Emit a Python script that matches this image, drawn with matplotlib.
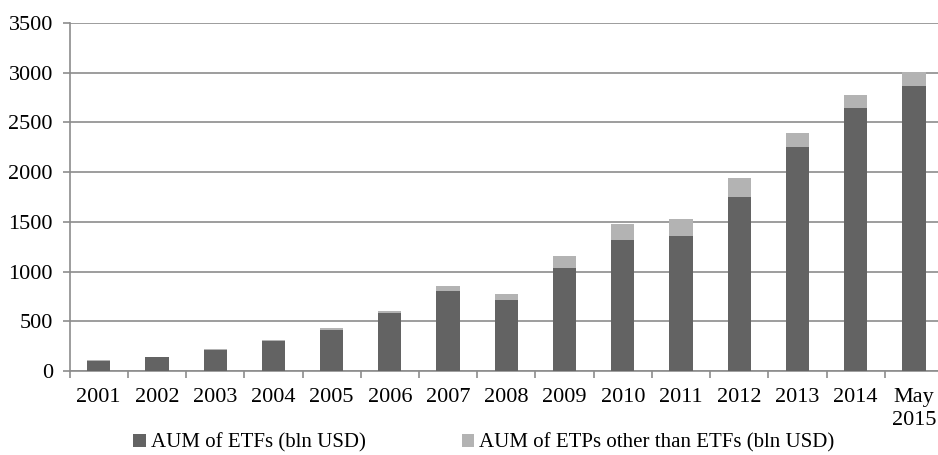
import numpy as np
import matplotlib.pyplot as plt

categories = ['2001', '2002', '2003', '2004', '2005', '2006', '2007', '2008',
              '2009', '2010', '2011', '2012', '2013', '2014', 'May\n2015']
etf = [104, 141, 216, 302, 413, 584, 805, 714, 1039, 1318, 1355, 1750, 2257, 2643, 2867]
total = [106, 143, 219, 316, 430, 604, 855, 772, 1154, 1479, 1526, 1945, 2397, 2780, 3008]
other = [t - e for t, e in zip(total, etf)]

plt.rcParams['font.family'] = ['Liberation Serif', 'DejaVu Serif']

fig = plt.figure(figsize=(9.38, 4.55), dpi=100)
ax = fig.add_axes([69.6 / 938, 1 - 371 / 455, (943 - 69.6) / 938, (371 - 23) / 455])

x = np.arange(len(categories))
ax.bar(x, etf, width=0.4, color='#636363', label='AUM of ETFs (bln USD)', zorder=3)
ax.bar(x, other, width=0.4, bottom=etf, color='#b3b3b3',
       label='AUM of ETPs other than ETFs (bln USD)', zorder=3)

ax.set_xlim(-0.5, len(categories) - 0.5)
ax.set_ylim(0, 3500)
ax.set_yticks(np.arange(0, 3501, 500))
ax.yaxis.grid(True, color='#8c8c8c', linewidth=1.2, zorder=0)

ax.set_xticks(x)
ax.set_xticklabels(categories, fontsize=16, linespacing=1.3)
ax.set_xticks(np.arange(-0.5, len(categories), 1), minor=True)
ax.tick_params(axis='x', which='major', length=0, pad=12)
ax.tick_params(axis='x', which='minor', length=5, color='#8c8c8c', width=1.2)
ax.tick_params(axis='y', length=5, color='#8c8c8c', width=1.2, labelsize=16, pad=7)

for s in ['top', 'right']:
    ax.spines[s].set_visible(False)
for s in ['left', 'bottom']:
    ax.spines[s].set_color('#8c8c8c')
    ax.spines[s].set_linewidth(1.2)

fig.legend(loc='center', bbox_to_anchor=(484 / 938, 1 - 443 / 455), ncol=2,
           frameon=False, fontsize=15, handlelength=0.6, handleheight=0.6,
           handletextpad=0.25, columnspacing=4.6)

fig.savefig('out.png', dpi=100)
